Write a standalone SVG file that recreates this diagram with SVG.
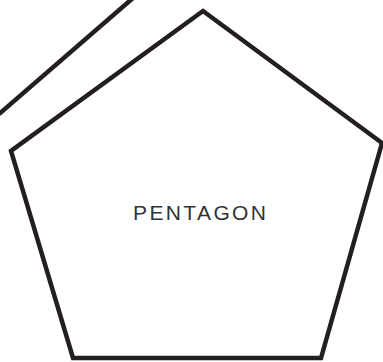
<svg xmlns="http://www.w3.org/2000/svg" width="383" height="362" viewBox="0 0 383 362">
<style>
.edge{fill:none;stroke:#231f20;stroke-width:4.5;stroke-linejoin:miter}
.lbl{font-family:"Liberation Sans",Arial,sans-serif;font-size:21px;fill:#333;}
</style>
<rect width="383" height="362" fill="#fff"/>
<g id="connectors">
<line class="edge" x1="133" y1="-2" x2="-1" y2="114"/>
</g>
<g id="pentagon">
<polygon class="edge" points="203,11 382,143 321,358 73,358 11,151"/>
<text class="lbl" x="133" y="220" textLength="133" lengthAdjust="spacing">PENTAGON</text>
</g>
</svg>
